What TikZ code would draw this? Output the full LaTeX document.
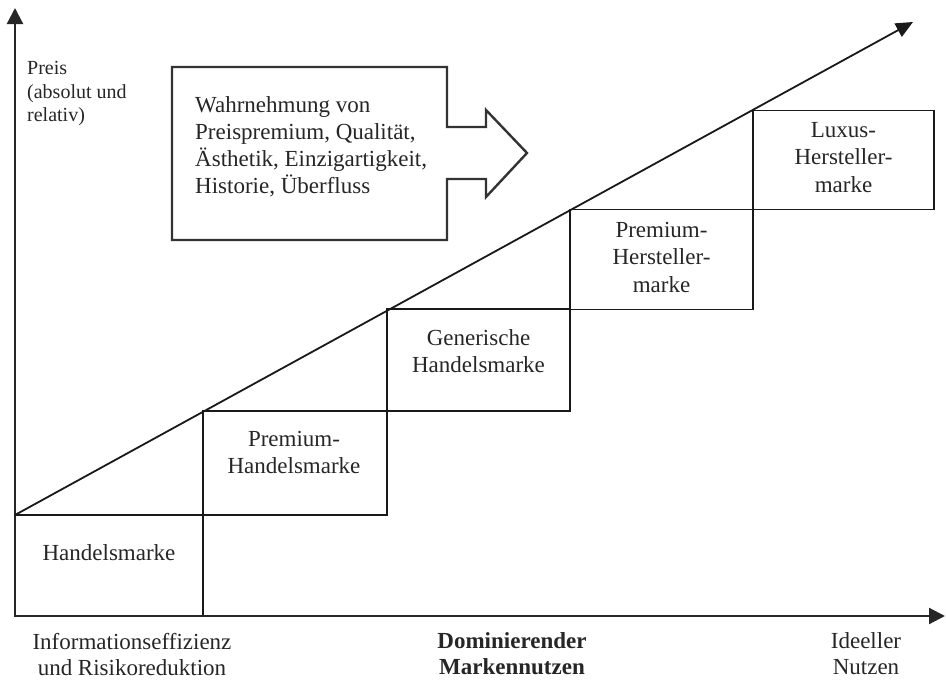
\documentclass[tikz,border=0pt]{standalone}
\usepackage{fontspec}
\setmainfont{Liberation Serif}
\usetikzlibrary{arrows.meta}
\begin{document}
\begin{tikzpicture}[x=1pt,y=-1pt,
  axis/.style={line width=2.2pt, draw=black!85, -{Triangle[length=16pt,width=16pt]}},
  diag/.style={line width=1.8pt, draw=black!90, -{Triangle[length=17pt,width=15pt]}},
  brandbox/.style={draw=black!90, line width=1.6pt, rectangle, inner sep=0pt, outer sep=0pt},
  lbl/.style={font=\fontsize{23}{27.5}\selectfont, align=center, inner sep=0pt, text=black!85},
  axlbl/.style={font=\fontsize{23}{26}\selectfont, align=center, inner sep=0pt, text=black!85},
  blocktext/.style={font=\fontsize{23}{27}\selectfont, align=left, inner sep=0pt, text=black!85},
  ylbl/.style={font=\fontsize{20}{23.5}\selectfont, align=left, inner sep=0pt, text=black!85},
  bigarrow/.style={draw=black!80, line width=2.4pt, line join=miter}
]
\useasboundingbox (0,0) rectangle (946,680);

% brand boxes
\node[brandbox, minimum width=188pt, minimum height=101pt] (b1) at (109,565.5) {};
\node[brandbox, minimum width=184pt, minimum height=104pt] (b2) at (295,463) {};
\node[brandbox, minimum width=183pt, minimum height=102pt] (b3) at (478.5,360) {};
\node[brandbox, minimum width=183pt, minimum height=100pt] (b4) at (661.5,259.5) {};
\node[brandbox, minimum width=181pt, minimum height=99pt] (b5) at (843.5,160) {};

% box labels
\node[lbl] (t1) at (109,552.5) {Handelsmarke};
\node[lbl] (t2) at (294,452.5) {Premium-\\Handelsmarke};
\node[lbl] (t3) at (478.5,351) {Generische\\Handelsmarke};
\node[lbl] (t4) at (661.5,257) {Premium-\\Hersteller-\\marke};
\node[lbl] (t5) at (843.5,157.5) {Luxus-\\Hersteller-\\marke};

% axes
\coordinate (origin) at (15,616);
\coordinate (ytip) at (15,8);
\coordinate (xtip) at (945,616);
\draw[axis] (origin) -- (ytip);
\draw[axis] (origin) -- (xtip);

% diagonal
\coordinate (dtip) at (913,22);
\draw[diag] (b1.north west) -- (dtip);

% block arrow
\draw[bigarrow] (172,67) -- (447,67) -- (447,127) -- (486,127) -- (486,110)
  -- (527,153) -- (486,197) -- (486,179) -- (447,179) -- (447,240)
  -- (172,240) -- cycle;
\node[blocktext, anchor=north west] (bt) at (195,96.3)
  {Wahrnehmung von\\Preispremium, Qualität,\\Ästhetik, Einzigartigkeit,\\Historie, Überfluss};

% axis labels
\node[ylbl, anchor=north west] (yl) at (27,61.3) {Preis\\(absolut und\\relativ)};
\node[axlbl] (xl1) at (132,655) {Informationseffizienz\\und Risikoreduktion};
\node[axlbl, font=\fontsize{23}{26}\selectfont\bfseries] (xl2) at (512,654) {Dominierender\\Markennutzen};
\node[axlbl] (xl3) at (866,653.5) {Ideeller\\Nutzen};
\end{tikzpicture}
\end{document}
